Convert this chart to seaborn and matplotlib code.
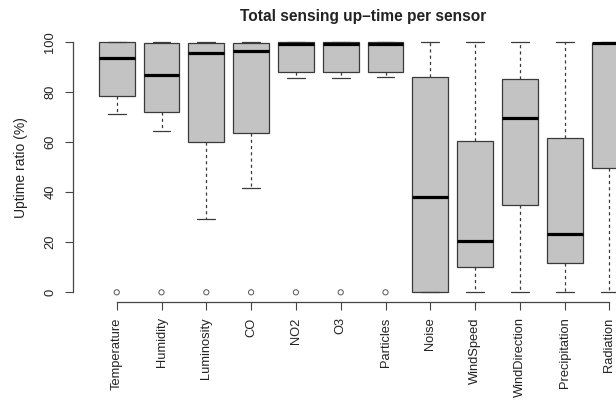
import numpy as np
import pandas as pd
import matplotlib
matplotlib.use("Agg")
import matplotlib.pyplot as plt
import seaborn as sns

# ---- data ----
categories = ["Temperature", "Humidity", "Luminosity", "CO", "NO2", "O3",
              "Particles", "Noise", "WindSpeed", "WindDirection",
              "Precipitation", "Radiation"]
whisker_low = [71.4, 64.6, 29.2, 41.5, 85.7, 85.7, 86.0, 0.0, 0.0, 0.0, 0.0, 0.0]
q1 = [78.3, 71.9, 59.9, 63.8, 87.9, 87.9, 87.9, 0.0, 10.0, 34.9, 11.6, 49.8]
median = [93.5, 86.7, 95.5, 96.4, 99.1, 99.1, 99.1, 38.2, 20.6, 69.6, 23.3, 99.5]
q3 = [100.0, 99.6, 99.7, 99.7, 100.0, 100.0, 100.0, 86.1, 60.3, 85.1, 61.5, 99.7]
whisker_high = [100.0, 100.0, 100.0, 100.0, 100.0, 100.0, 100.0, 100.0, 100.0, 100.0, 100.0, 100.0]
outlier_sensors = ["Temperature", "Humidity", "Luminosity", "CO", "NO2", "O3", "Particles"]
outlier_values = [0.0, 0.0, 0.0, 0.0, 0.0, 0.0, 0.0]
yticks = [0, 20, 40, 60, 80, 100]

sns.set_style("ticks")
plt.rcParams["font.family"] = ["Liberation Sans", "DejaVu Sans"]

rows = []
for c, a, b, m, d, e in zip(categories, whisker_low, q1, median, q3, whisker_high):
    for v in (a, b, m, d, e):
        rows.append({"sensor": c, "uptime": v})
df = pd.DataFrame(rows)

fig = plt.figure(figsize=(6.16, 4.01), dpi=100)
ax = fig.add_axes([0.1182, 0.2461, 0.9425, 0.6741])

edge = "#3a3a3a"
sns.boxplot(data=df, x="sensor", y="uptime", order=categories, ax=ax,
            whis=(0, 100), width=0.8, color="#c3c3c3", saturation=1,
            linecolor=edge, linewidth=0.9, fliersize=0, showcaps=True,
            whiskerprops=dict(linestyle=(0, (2.5, 2.5)), color=edge),
            capprops=dict(color=edge),
            medianprops=dict(color="black", linewidth=2.3))

pos = [categories.index(s) for s in outlier_sensors]
ax.scatter(pos, outlier_values, s=14, facecolors="none", edgecolors="#555555",
           linewidths=0.7, zorder=5, clip_on=False)

ax.set_xlim(-0.98, 11.98)
ax.set_ylim(-4, 104)

for side in ["top", "right"]:
    ax.spines[side].set_visible(False)
ax.spines["left"].set_bounds(0, 100)
ax.spines["bottom"].set_bounds(0, len(categories) - 1)
for side in ["left", "bottom"]:
    ax.spines[side].set_color("#444444")
    ax.spines[side].set_linewidth(0.9)

ax.set_xticks(range(len(categories)))
ax.set_xticklabels(categories, rotation=90)
ax.set_yticks(yticks)
ax.set_yticklabels([str(t) for t in yticks], rotation=90, va="center")
ax.tick_params(axis="both", length=5.8, width=0.8, color="#444444",
               labelsize=9.3, labelcolor="#222222")
ax.tick_params(axis="x", pad=5)
ax.tick_params(axis="y", pad=6)

ax.set_xlabel("")
ax.set_ylabel("Uptime ratio (%)", fontsize=10, color="#222222")
ax.yaxis.set_label_coords(-0.078, 0.5)
ax.set_title("Total sensing up\u2013time per sensor", fontsize=11.2,
             fontweight="bold", pad=8, color="#222222")

fig.savefig("out.png", dpi=100)
